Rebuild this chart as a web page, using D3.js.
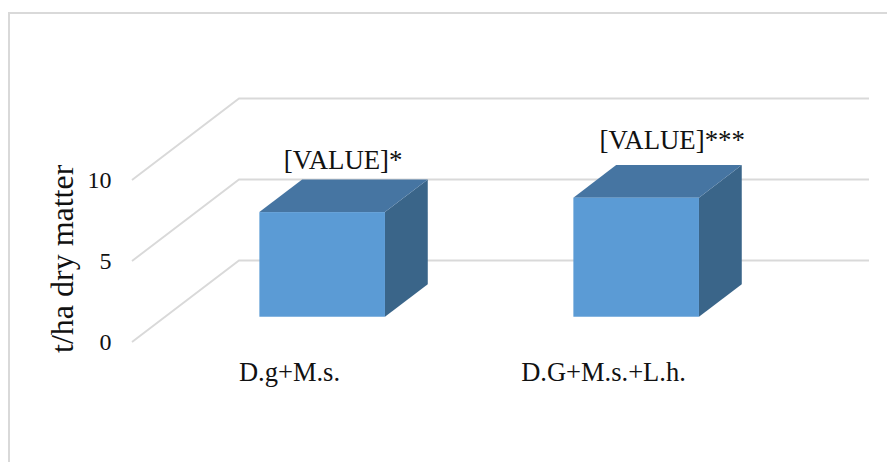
<!DOCTYPE html>
<html><head><meta charset="utf-8">
<script src="https://cdnjs.cloudflare.com/ajax/libs/d3/7.8.5/d3.min.js"></script>
<style>html,body{margin:0;padding:0;background:#fff;overflow:hidden}svg{display:block}text{font-family:"Liberation Serif",serif;fill:#111}</style>
</head><body><svg id="c" width="887" height="462"></svg>
<script>
const categories = ["D.g+M.s.", "D.G+M.s.+L.h."];
const values = [6.46, 7.35];
const labels = ["[VALUE]*", "[VALUE]***"];
const yTicks = [0, 5, 10];
const yTitle = "t/ha dry matter";

const svg = d3.select("#c");
const y = d3.scaleLinear().domain([0, 10]).range([342, 180]);
const x = d3.scaleBand().domain(categories).range([132, 760]).paddingInner(0.6).paddingOuter(0.3);
const dX = d3.scaleLinear().domain([0, 1]).range([0, 107]);
const dY = d3.scaleLinear().domain([0, 1]).range([0, -81.5]);
const zFront = 0.31, zBack = 0.71;
const wallRight = 869;

svg.append("path").attr("d", "M9,462V13H887").attr("fill", "none").attr("stroke", "#D9D9D9").attr("stroke-width", 2);

const line = d3.line();
const grid = svg.append("g").attr("fill", "none").attr("stroke", "#D9D9D9").attr("stroke-width", 1.9);
yTicks.forEach(t => {
  grid.append("path").attr("d", line([
    [x.range()[0], y(t)],
    [x.range()[0] + dX(1), y(t) + dY(1)],
    [wallRight, y(t) + dY(1)]
  ]));
});

svg.append("g").attr("text-anchor", "end").attr("font-size", 24).selectAll("text").data(yTicks).join("text")
  .attr("x", 111.5).attr("y", d => y(d) + 7.5).text(d => d);

svg.append("text").attr("transform", "translate(73,353) rotate(-90)").attr("font-size", 32).text(yTitle);

const bars = svg.append("g").selectAll("g").data(categories).join("g");
bars.each(function (c, i) {
  const g = d3.select(this);
  const x0 = x(c) + dX(zFront), x1 = x0 + x.bandwidth();
  const bot = y(0) + dY(zFront), top = bot - (y(0) - y(values[i]));
  const ox = dX(zBack - zFront), oy = dY(zBack - zFront);
  g.append("path").attr("fill", "#3A6589").attr("d", line([[x1, bot], [x1 + ox, bot + oy], [x1 + ox, top + oy], [x1, top]]) + "Z");
  g.append("path").attr("fill", "#4675A2").attr("d", line([[x0, top], [x0 + ox, top + oy], [x1 + ox, top + oy], [x1, top]]) + "Z");
  g.append("rect").attr("x", x0).attr("y", top).attr("width", x1 - x0).attr("height", bot - top).attr("fill", "#5B9BD5");
  g.append("text").attr("x", (x0 + x1) / 2 + 21 + (i ? 15 : 0)).attr("y", top + oy - 10 + (i ? -6 : 0))
    .attr("text-anchor", "middle").attr("font-size", 26.8).text(labels[i]);
  g.append("text").attr("x", x(c) + x.bandwidth() / 2 + 0.5).attr("y", 381)
    .attr("text-anchor", "middle").attr("font-size", 26.5).text(c);
});
</script></body></html>
